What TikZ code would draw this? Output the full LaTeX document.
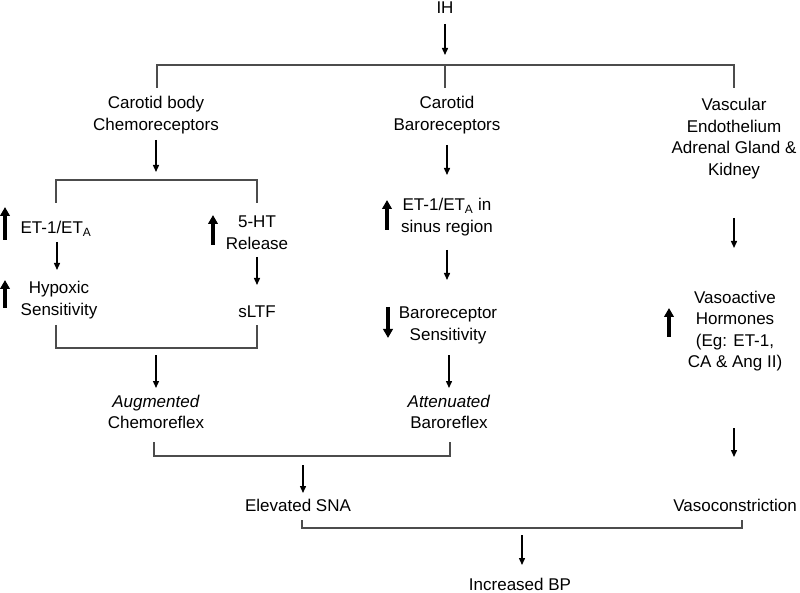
\documentclass[tikz,border=0pt]{standalone}
\usepackage{fontspec}
\setmainfont{Liberation Sans}
\usetikzlibrary{arrows.meta}
\begin{document}
\begin{tikzpicture}[x=1pt,y=-1pt,
  lbl/.style={align=center,anchor=base,inner sep=0pt,font=\fontsize{17}{21.5}\selectfont},
  arr/.style={-{Triangle[length=7pt,width=6pt]},line width=1.4pt},
  brk/.style={line width=1.1pt,draw=black!70},
  big/.style={-{Triangle[length=9pt,width=9.5pt]},line width=3.4pt}]
\useasboundingbox (0,0) rectangle (800,593);

% ---- text nodes (base anchor = baseline of the last line) ----
\node[lbl] (ih)    at (445,14)    {IH};
\node[lbl] (chemo) at (156,130.5) {Carotid body\\Chemoreceptors};
\node[lbl] (baro)  at (447,130.5) {Carotid\\Baroreceptors};
\node[lbl] (vasc)  at (734,175.5) {Vascular\\Endothelium\\Adrenal Gland \&\\Kidney};
\node[lbl] (et1)   at (56,234)    {ET-1/ET\textsubscript{A}};
\node[lbl] (hyp)   at (59,315.5)  {Hypoxic\\Sensitivity};
\node[lbl] (ht)    at (257,249.5) {5-HT\\Release};
\node[lbl] (sltf)  at (257,318)   {sLTF};
\node[lbl] (aug)   at (156,428.5) {\textit{Augmented}\\Chemoreflex};
\node[lbl] (etb)   at (447,232.5) {ET-1/ET\textsubscript{A} in\\sinus region};
\node[lbl] (brs)   at (448,340.5) {Baroreceptor\\Sensitivity};
\node[lbl] (att)   at (449,428.5) {\textit{Attenuated}\\Baroreflex};
\node[lbl] (sna)   at (298,511)   {Elevated SNA};
\node[lbl] (vaso)  at (735,367.5) {Vasoactive\\Hormones\\(Eg: ET-1,\\CA \& Ang II)};
\node[lbl] (vc)    at (735,511)   {Vasoconstriction};
\node[lbl] (bp)    at (520,590)   {Increased BP};

% ---- bracket points ----
\coordinate (tl) at (157,65);  \coordinate (tm) at (445,65);  \coordinate (tr) at (734,65);
\coordinate (tlb) at (157,88); \coordinate (tmb) at (445,88); \coordinate (trb) at (734,88);
\coordinate (ul) at (56,180);  \coordinate (ur) at (257,180);
\coordinate (ulb) at (56,203); \coordinate (urb) at (257,203);
\coordinate (ll) at (56,348);  \coordinate (lr) at (257,348);
\coordinate (llt) at (56,325); \coordinate (lrt) at (257,325);
\coordinate (ml) at (154,456); \coordinate (mr) at (450,456);
\coordinate (mlt) at (154,442); \coordinate (mrt) at (450,442);
\coordinate (bl) at (302,528); \coordinate (br) at (742,528);
\coordinate (blt) at (302,520); \coordinate (brt) at (742,520);

\draw[brk] (tlb) -- (tl) -- (tr) -- (trb);
\draw[brk] (tm) -- (tmb);
\draw[brk] (ulb) -- (ul) -- (ur) -- (urb);
\draw[brk] (llt) -- (ll) -- (lr) -- (lrt);
\draw[brk] (mlt) -- (ml) -- (mr) -- (mrt);
\draw[brk] (blt) -- (bl) -- (br) -- (brt);

% ---- arrow end points ----
\coordinate (a0s) at (445,24);  \coordinate (a0e) at (445,55);
\coordinate (a1s) at (156,140); \coordinate (a1e) at (156,172);
\coordinate (a2s) at (57,242);  \coordinate (a2e) at (57,270);
\coordinate (a3s) at (257,257); \coordinate (a3e) at (257,285);
\coordinate (a4s) at (156,355); \coordinate (a4e) at (156,388);
\coordinate (b1s) at (447,145); \coordinate (b1e) at (447,175);
\coordinate (b2s) at (447,250); \coordinate (b2e) at (447,280);
\coordinate (b3s) at (449,355); \coordinate (b3e) at (449,388);
\coordinate (c1s) at (734,218); \coordinate (c1e) at (734,248);
\coordinate (c2s) at (734,428); \coordinate (c2e) at (734,457);
\coordinate (d1s) at (303,465); \coordinate (d1e) at (303,493);
\coordinate (d2s) at (522,535); \coordinate (d2e) at (522,565);

\draw[arr] (a0s) -- (a0e);
\draw[arr] (a1s) -- (a1e);
\draw[arr] (a2s) -- (a2e);
\draw[arr] (a3s) -- (a3e);
\draw[arr] (a4s) -- (a4e);
\draw[arr] (b1s) -- (b1e);
\draw[arr] (b2s) -- (b2e);
\draw[arr] (b3s) -- (b3e);
\draw[arr] (c1s) -- (c1e);
\draw[arr] (c2s) -- (c2e);
\draw[arr] (d1s) -- (d1e);
\draw[arr] (d2s) -- (d2e);

% ---- bold up/down indicators ----
\draw[big] (5,240) -- (5,207);
\draw[big] (5,308) -- (5,280);
\draw[big] (213,245) -- (213,215);
\draw[big] (387,230) -- (387,200);
\draw[big] (388,307) -- (388,338);
\draw[big] (669,337) -- (669,308);
\end{tikzpicture}
\end{document}
